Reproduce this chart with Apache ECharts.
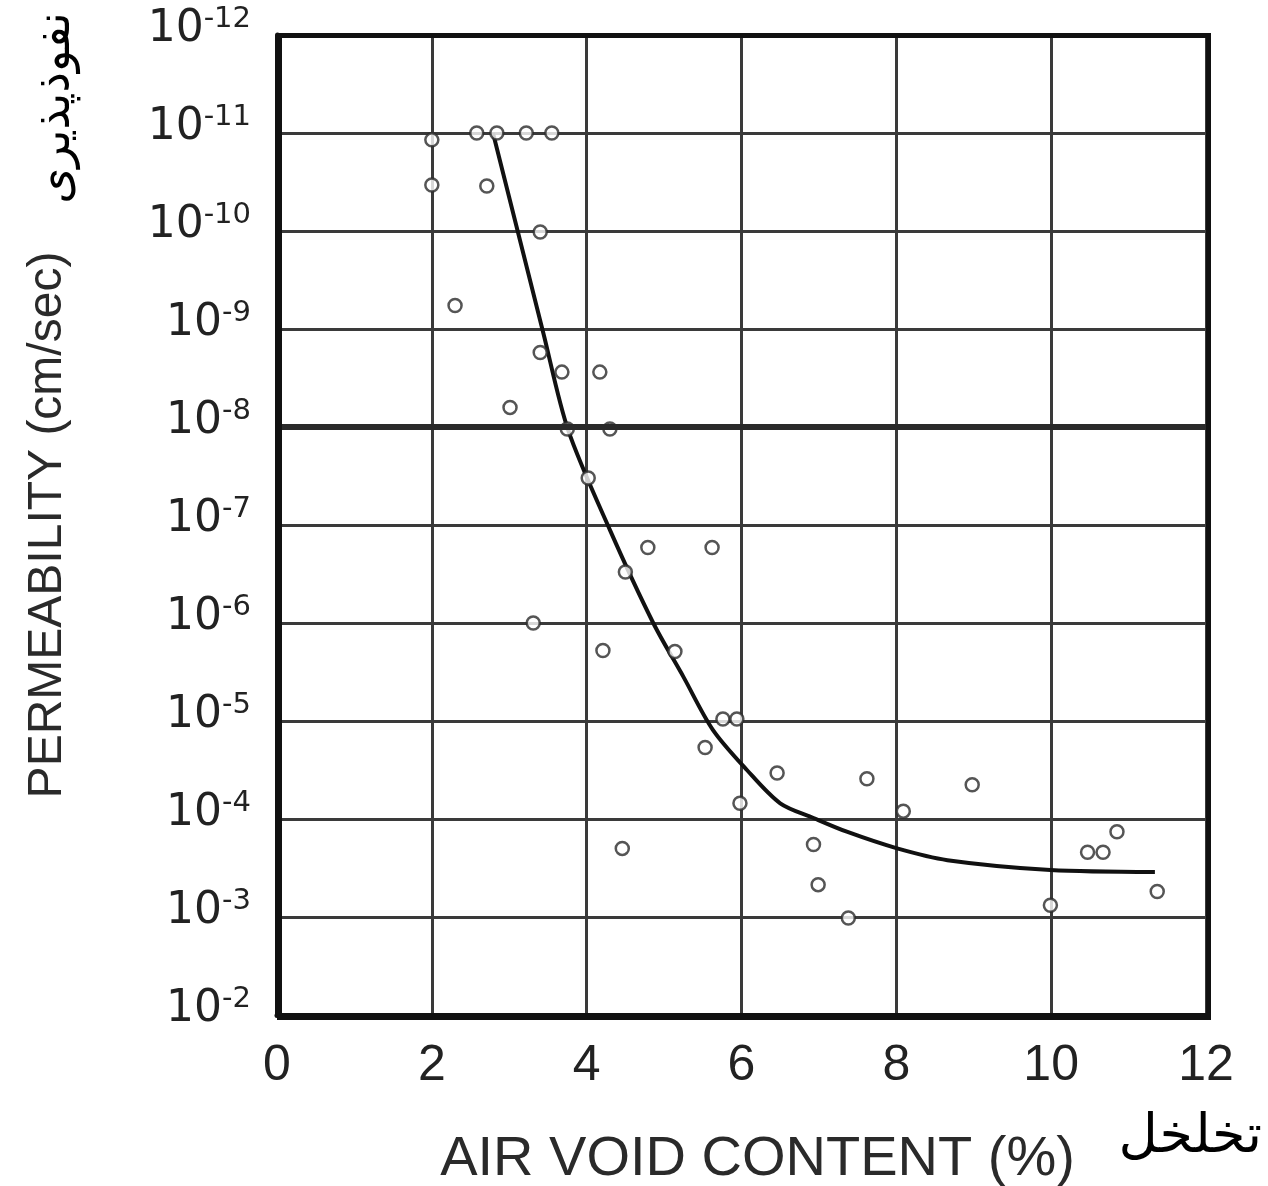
<!DOCTYPE html>
<html>
<head>
<meta charset="utf-8">
<script src="https://cdn.jsdelivr.net/npm/echarts@6/dist/echarts.min.js"></script>
<style>
  html, body { margin: 0; padding: 0; background: #fff; }
  #chart { width: 1268px; height: 1186px; }
</style>
</head>
<body>
<div id="chart"></div>
<script>
// x: air void content (%), y: n where permeability label is 10^-n
const xTicks = [0, 2, 4, 6, 8, 10, 12]
const yExponents = [2, 3, 4, 5, 6, 7, 8, 9, 10, 11, 12]

// measured points (air void %, n)
const pointsX = [2.0, 2.0, 2.58, 2.84, 3.22, 3.55, 2.71, 3.40, 2.30, 3.40, 3.68, 4.17, 3.01, 3.75, 4.30,
  4.02, 4.79, 5.62, 4.50, 3.31, 4.21, 5.14, 5.76, 5.94, 5.53, 6.46, 5.98, 7.62, 8.09, 8.98,
  4.46, 6.93, 6.99, 7.38, 9.99, 10.47, 10.67, 10.85, 11.37]
const pointsN = [10.93, 10.47, 11.0, 11.0, 11.0, 11.0, 10.46, 9.99, 9.24, 8.76, 8.56, 8.56, 8.20, 7.98, 7.98,
  7.48, 6.77, 6.77, 6.52, 6.0, 5.72, 5.71, 5.02, 5.02, 4.73, 4.47, 4.16, 4.41, 4.08, 4.35,
  3.70, 3.74, 3.33, 2.99, 3.12, 3.66, 3.66, 3.87, 3.26]

// fitted curve
const curveX = [2.79, 3.44, 3.76, 4.30, 4.86, 5.25, 5.63, 6.07, 6.50, 6.93, 7.36, 8.01, 8.66, 9.99, 11.34]
const curveN = [11.0, 8.96, 7.97, 6.95, 6.0, 5.45, 4.91, 4.50, 4.16, 4.01, 3.87, 3.70, 3.58, 3.48, 3.46]

const chart = echarts.init(document.getElementById('chart'))

const option = {
  backgroundColor: '#fff',
  animation: false,
  grid: { left: 277, right: 62, top: 35, bottom: 171, outerBoundsMode: 'none', containLabel: false },
  xAxis: {
    type: 'value',
    min: xTicks[0],
    max: xTicks[xTicks.length - 1],
    interval: 2,
    name: 'AIR VOID CONTENT (%)',
    nameLocation: 'middle',
    nameGap: 117,
    nameTextStyle: { fontFamily: 'Liberation Sans', fontSize: 56, color: '#2a2a2a', padding: [0, 0, 0, 32] },
    axisLine: { show: true, lineStyle: { color: '#111', width: 5 } },
    axisTick: { show: false },
    axisLabel: { fontFamily: 'Liberation Sans', fontSize: 50, color: '#222', margin: 26 },
    splitLine: { show: true, lineStyle: { color: '#3a3a3a', width: 3 } }
  },
  yAxis: {
    type: 'value',
    min: yExponents[0],
    max: yExponents[yExponents.length - 1],
    interval: 1,
    name: 'PERMEABILITY (cm/sec)',
    nameLocation: 'middle',
    nameRotate: 90,
    nameGap: 205,
    nameTextStyle: { fontFamily: 'Liberation Sans', fontSize: 48, color: '#2a2a2a' },
    axisLine: { show: true, lineStyle: { color: '#111', width: 5 } },
    axisTick: { show: false },
    axisLabel: {
      margin: 26,
      padding: [0, 0, 14, 0],
      formatter: function (v) { return '{b|10}{s|-' + v + '}' },
      rich: {
        b: { fontFamily: 'DejaVu Sans', fontSize: 44, lineHeight: 47, color: '#222', verticalAlign: 'bottom' },
        s: { fontFamily: 'DejaVu Sans', fontSize: 29, lineHeight: 29, color: '#222', verticalAlign: 'top' }
      }
    },
    splitLine: { show: true, lineStyle: { color: '#3a3a3a', width: 3 } }
  },
  graphic: [
    // plot frame (top and right edges)
    {
      type: 'rect', left: 277, top: 33, z: 100,
      shape: { width: 929, height: 982 },
      style: { fill: null, stroke: '#111', lineWidth: 5 }
    },
    {
      type: 'text', x: 1262, y: 1138, z: 100,
      style: { text: 'تخلخل', font: '54px "DejaVu Sans", serif', fill: '#000', align: 'right', verticalAlign: 'middle' }
    },
    {
      type: 'text', x: 57, y: 108, rotation: Math.PI / 2, z: 100,
      style: { text: 'نفوذپذیری', font: '46px "DejaVu Sans", serif', fill: '#000', align: 'center', verticalAlign: 'middle' }
    }
  ],
  series: [
    {
      type: 'line',
      data: curveX.map((x, i) => [x, curveN[i]]),
      smooth: 0.3,
      showSymbol: false,
      lineStyle: { color: '#111', width: 4 },
      z: 3,
      markLine: {
        silent: true,
        symbol: 'none',
        label: { show: false },
        lineStyle: { color: '#2a2a2a', width: 6, type: 'solid' },
        data: [{ yAxis: 8 }]
      }
    },
    {
      type: 'scatter',
      data: pointsX.map((x, i) => [x, pointsN[i]]),
      symbol: 'circle',
      symbolSize: 13,
      itemStyle: { color: '#fff', borderColor: '#2a2a2a', borderWidth: 2.5 },
      z: 4
    }
  ]
}

chart.setOption(option)
</script>
</body>
</html>
